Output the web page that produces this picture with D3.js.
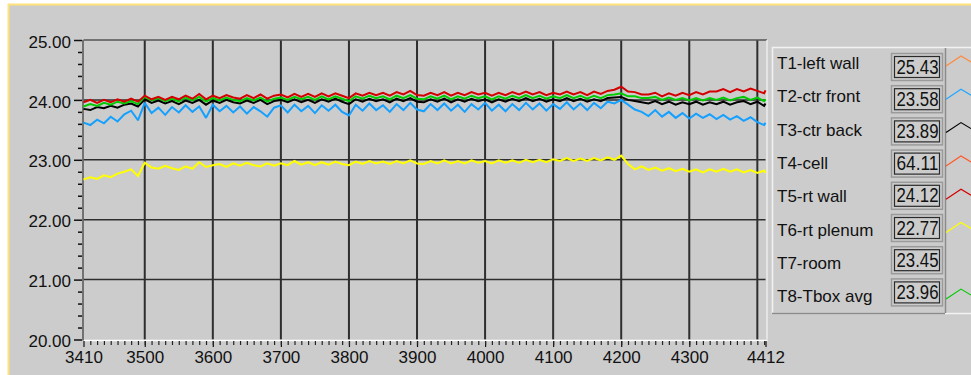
<!DOCTYPE html>
<html>
<head>
<meta charset="utf-8">
<script src="https://cdn.jsdelivr.net/npm/d3@7"></script>
<style>
  html, body { margin: 0; padding: 0; background: #fff; }
  svg { display: block; font-family: "Liberation Sans", Arial, sans-serif; }
</style>
</head>
<body>
<svg id="chart" width="971" height="375"></svg>
<script>
// sample numbers on the x axis (one reading every 10 samples, plus the last one)
var samples = d3.range(3410, 4411, 10).concat([4412]);

var xTickLabels = [3410, 3500, 3600, 3700, 3800, 3900, 4000, 4100, 4200, 4300, 4412];
var xGrid = [3500, 3600, 3700, 3800, 3900, 4000, 4100, 4200, 4300, 4400];
var yTicks = [20, 21, 22, 23, 24, 25];

// T2-ctr front (blue)
var t2Values = [
  23.62, 23.58, 23.67, 23.61, 23.72, 23.64, 23.76, 23.82, 23.66, 23.95,
  23.78, 23.87, 23.75, 23.88, 23.79, 23.91, 23.80, 23.89, 23.70, 23.92,
  23.81, 23.90, 23.79, 23.89, 23.77, 23.88, 23.81, 23.72, 23.87, 23.91,
  23.79, 23.92, 23.81, 23.90, 23.78, 23.91, 23.82, 23.92, 23.80, 23.74,
  23.92, 23.82, 23.94, 23.83, 23.91, 23.80, 23.93, 23.83, 23.95, 23.84,
  23.81, 23.93, 23.83, 23.94, 23.82, 23.92, 23.80, 23.93, 23.84, 23.95,
  23.82, 23.92, 23.81, 23.93, 23.83, 23.95, 23.84, 23.94, 23.82, 23.93,
  23.85, 23.96, 23.84, 23.94, 23.83, 23.95, 23.86, 23.97, 23.94, 24.00,
  23.92, 23.84, 23.80, 23.73, 23.83, 23.72, 23.80, 23.70, 23.78, 23.69,
  23.77, 23.70, 23.76, 23.68, 23.75, 23.67, 23.73, 23.65, 23.71, 23.63,
  23.58, 23.62
];

// T3-ctr back (black)
var t3Values = [
  23.85, 23.83, 23.88, 23.86, 23.90, 23.87, 23.92, 23.94, 23.89, 24.01,
  23.95, 23.99, 23.94, 23.98, 23.93, 23.99, 23.95, 24.00, 23.92, 23.99,
  23.95, 24.00, 23.96, 23.94, 23.99, 23.95, 24.00, 23.93, 23.98, 24.00,
  23.96, 24.01, 23.96, 24.00, 23.95, 24.01, 23.97, 24.02, 23.97, 23.93,
  24.01, 23.97, 24.02, 23.98, 24.01, 23.96, 24.02, 23.98, 24.03, 23.97,
  23.96, 24.01, 23.97, 24.02, 23.96, 24.01, 23.97, 24.02, 23.98, 24.01,
  23.96, 24.01, 23.97, 24.02, 23.98, 24.03, 23.98, 24.02, 23.97, 24.01,
  23.98, 24.03, 23.98, 24.02, 23.97, 24.01, 23.98, 24.03, 24.04, 24.05,
  24.00, 23.98, 23.96, 23.94, 23.98, 23.93, 23.97, 23.92, 23.96, 23.93,
  23.97, 23.92, 23.96, 23.93, 23.97, 23.92, 23.96, 23.98, 23.93, 23.97,
  23.90, 23.94
];

// T5-rt wall (red)
var t5Values = [
  23.96, 24.00, 23.95, 24.00, 23.96, 24.01, 23.97, 24.02, 23.97, 24.07,
  24.01, 24.05, 24.00, 24.05, 24.01, 24.07, 24.02, 24.10, 24.01, 24.07,
  24.03, 24.08, 24.04, 24.02, 24.08, 24.03, 24.09, 24.02, 24.07, 24.09,
  24.04, 24.10, 24.05, 24.10, 24.05, 24.11, 24.06, 24.11, 24.07, 24.03,
  24.11, 24.07, 24.12, 24.08, 24.12, 24.07, 24.13, 24.09, 24.15, 24.08,
  24.07, 24.12, 24.08, 24.13, 24.07, 24.12, 24.08, 24.13, 24.09, 24.12,
  24.07, 24.12, 24.08, 24.13, 24.09, 24.14, 24.09, 24.13, 24.08, 24.12,
  24.09, 24.14, 24.09, 24.13, 24.08, 24.14, 24.10, 24.15, 24.17, 24.22,
  24.14, 24.13, 24.09, 24.09, 24.12, 24.06, 24.11, 24.07, 24.12, 24.08,
  24.13, 24.09, 24.14, 24.14, 24.18, 24.13, 24.18, 24.14, 24.19, 24.15,
  24.11, 24.16
];

// T6-rt plenum (yellow)
var t6Values = [
  22.67, 22.71, 22.68, 22.74, 22.71, 22.77, 22.80, 22.84, 22.73, 22.95,
  22.87, 22.85, 22.90, 22.86, 22.83, 22.89, 22.85, 22.96, 22.88, 22.91,
  22.93, 22.88, 22.94, 22.90, 22.95, 22.91, 22.89, 22.94, 22.90, 22.94,
  22.91, 22.98, 22.92, 22.96, 22.91, 22.96, 22.92, 22.97, 22.93, 22.91,
  22.97, 22.93, 22.98, 22.94, 22.97, 22.93, 22.98, 22.94, 22.99, 22.94,
  22.93, 22.98, 22.94, 22.99, 22.94, 22.98, 22.94, 22.99, 22.95, 22.98,
  22.94, 22.99, 22.95, 22.99, 22.95, 23.00, 22.96, 23.00, 22.96, 23.01,
  22.98, 23.03, 22.98, 23.02, 22.98, 23.03, 22.99, 23.04, 23.00, 23.07,
  22.93, 22.84, 22.89, 22.83, 22.87, 22.82, 22.86, 22.81, 22.85, 22.80,
  22.84, 22.79, 22.84, 22.80, 22.85, 22.80, 22.84, 22.79, 22.83, 22.78,
  22.82, 22.78
];

// T8-Tbox avg (green)
var t8Values = [
  23.89, 23.93, 23.90, 23.95, 23.92, 23.97, 23.94, 23.98, 23.93, 24.05,
  23.99, 24.03, 23.98, 24.02, 23.97, 24.04, 23.99, 24.05, 23.97, 24.03,
  23.99, 24.04, 24.00, 23.98, 24.03, 23.99, 24.04, 23.97, 24.02, 24.04,
  24.00, 24.05, 24.01, 24.05, 24.00, 24.06, 24.01, 24.06, 24.02, 23.98,
  24.06, 24.02, 24.07, 24.03, 24.06, 24.01, 24.07, 24.03, 24.08, 24.02,
  24.01, 24.06, 24.02, 24.07, 24.01, 24.06, 24.02, 24.07, 24.03, 24.06,
  24.01, 24.06, 24.02, 24.07, 24.03, 24.08, 24.03, 24.07, 24.02, 24.06,
  24.03, 24.08, 24.03, 24.07, 24.02, 24.07, 24.03, 24.08, 24.09, 24.11,
  24.06, 24.06, 24.03, 24.03, 24.05, 24.00, 24.04, 24.00, 24.03, 23.99,
  24.03, 23.99, 24.03, 24.00, 24.04, 23.99, 24.03, 24.05, 24.00, 24.04,
  23.98, 24.01
];

var plotSeries = [t6Values, t2Values, t3Values, t8Values, t5Values];
var plotColors = ["#ffff00", "#14a0ff", "#000000", "#00cc00", "#d40000"];

// legend
var legendNames = ["T1-left wall", "T2-ctr front", "T3-ctr back", "T4-cell",
                   "T5-rt wall", "T6-rt plenum", "T7-room", "T8-Tbox avg"];
var legendValues = ["25.43", "23.58", "23.89", "64.11", "24.12", "22.77", "23.45", "23.96"];
var legendColors = ["#ff8a3c", "#1ea8ff", "#000000", "#ff5a28", "#d40000", "#ffff00", null, "#00cc00"];


var svg = d3.select("#chart");
var bg = "#cccccc";
var font = "Liberation Sans, Arial, sans-serif";

// panel background with the yellow frame at top and left
svg.append("rect").attr("x", 8).attr("y", 4).attr("width", 963).attr("height", 371).attr("fill", bg);
svg.append("line").attr("x1", 8.5).attr("y1", 4).attr("x2", 8.5).attr("y2", 375)
  .attr("stroke", "#ffe27a").attr("stroke-width", 2);
svg.append("line").attr("x1", 8).attr("y1", 4.5).attr("x2", 971).attr("y2", 4.5)
  .attr("stroke", "#ffe27a").attr("stroke-width", 2);

var x = d3.scaleLinear().domain([3410, 4412]).range([83.5, 765.5]);
var y = d3.scaleLinear().domain([20, 25]).range([339.5, 40]);

// grid
var grid = svg.append("g");
grid.selectAll("line.v").data(xGrid).enter().append("line")
  .attr("x1", function(d) { return x(d); })
  .attr("x2", function(d) { return x(d); })
  .attr("y1", y(25)).attr("y2", y(20))
  .attr("stroke", "#2e2e2e").attr("stroke-width", 2);
grid.selectAll("line.h").data([21, 22, 23, 24]).enter().append("line")
  .attr("x1", x(3410)).attr("x2", x(4412))
  .attr("y1", function(d) { return y(d); })
  .attr("y2", function(d) { return y(d); })
  .attr("stroke", "#2e2e2e").attr("stroke-width", 1.5);

// frame: dark top/left, light bottom/right
svg.append("line").attr("x1", x(3410)).attr("x2", 767).attr("y1", y(25)).attr("y2", y(25))
  .attr("stroke", "#555").attr("stroke-width", 1.5);
svg.append("line").attr("x1", 767).attr("x2", 767).attr("y1", y(25)).attr("y2", y(20))
  .attr("stroke", "#ececec").attr("stroke-width", 1.5);
svg.append("line").attr("x1", x(3410)).attr("x2", 767.5).attr("y1", 340.5).attr("y2", 340.5)
  .attr("stroke", "#ffffff").attr("stroke-width", 1.5);
svg.append("line").attr("x1", 83).attr("x2", 83).attr("y1", y(25)).attr("y2", 340.5)
  .attr("stroke", "#555").attr("stroke-width", 1.5);

// series
var line = d3.line()
  .x(function(d, i) { return x(samples[i]); })
  .y(function(d) { return y(d); });

svg.append("g").selectAll("path").data(plotSeries).enter().append("path")
  .attr("d", line)
  .attr("fill", "none")
  .attr("stroke", function(d, i) { return plotColors[i]; })
  .attr("stroke-width", 2)
  .attr("stroke-linejoin", "miter")
  .attr("stroke-miterlimit", 2);

// y axis
var yMinor = [];
yTicks.slice(0, -1).forEach(function(t) {
  [0.2, 0.4, 0.6, 0.8].forEach(function(f) { yMinor.push(t + f); });
});

var yAxis = svg.append("g").attr("transform", "translate(82,0)")
  .call(d3.axisLeft(y).tickValues(yTicks).tickFormat(d3.format(".2f")).tickSize(8).tickPadding(3));
svg.append("g").attr("transform", "translate(82,0)")
  .call(d3.axisLeft(y).tickValues(yMinor).tickFormat("").tickSize(4))
  .select(".domain").remove();
yAxis.select(".domain").remove();
yAxis.selectAll("text").attr("font-size", 17).attr("fill", "#111").attr("dy", "0.42em")
  .attr("font-family", font);
svg.selectAll("g.tick line").attr("stroke", "#111").attr("stroke-width", 1.5);

// x axis
var xMinor = d3.range(3420, 4411, 10);
var xAxis = svg.append("g").attr("transform", "translate(0,341)")
  .call(d3.axisBottom(x).tickValues(xTickLabels).tickFormat(d3.format("d")).tickSize(6).tickPadding(4));
var xMin = svg.append("g").attr("transform", "translate(0,341)")
  .call(d3.axisBottom(x).tickValues(xMinor).tickFormat("").tickSize(4));
xAxis.select(".domain").remove();
xMin.select(".domain").remove();
xAxis.selectAll("text").attr("font-size", 17).attr("fill", "#111")
  .attr("font-family", font);
xAxis.selectAll("line").attr("stroke", "#111").attr("stroke-width", 1.2);
xMin.selectAll("line").attr("stroke", "#222").attr("stroke-width", 1.2);

// legend panel
var lg = svg.append("g");
lg.append("rect").attr("x", 772.5).attr("y", 47.5).attr("width", 200).attr("height", 266)
  .attr("fill", bg).attr("stroke", "#f2f2f2").attr("stroke-width", 1.5);
lg.append("line").attr("x1", 772).attr("x2", 945).attr("y1", 313.5).attr("y2", 313.5)
  .attr("stroke", "#8a8a8a").attr("stroke-width", 1.5);
lg.append("line").attr("x1", 945.5).attr("x2", 945.5).attr("y1", 48).attr("y2", 313)
  .attr("stroke", "#8a8a8a").attr("stroke-width", 1.5);

// labels and line samples sit on one pitch, value boxes on a slightly tighter one
var labelBase = function(i) { return 69 + 33.3 * i; };
var boxTop = function(i) { return 53 + 32.2 * i; };

lg.selectAll("text.name").data(legendNames).enter().append("text")
  .attr("class", "name")
  .attr("x", 777).attr("y", function(d, i) { return labelBase(i); })
  .attr("font-size", 17).attr("fill", "#111")
  .text(function(d) { return d; });

var boxes = lg.selectAll("g.box").data(legendValues).enter().append("g")
  .attr("transform", function(d, i) { return "translate(0," + boxTop(i) + ")"; });
boxes.append("rect").attr("x", 891.5).attr("y", 0.5).attr("width", 51).attr("height", 27)
  .attr("fill", bg).attr("stroke", "#9a9a9a").attr("stroke-width", 1.5);
boxes.append("rect").attr("x", 894.5).attr("y", 3.5).attr("width", 45).attr("height", 21)
  .attr("fill", bg).attr("stroke", "#2a2a2a").attr("stroke-width", 1.2);
boxes.append("text")
  .attr("x", 938.5).attr("y", 20.5)
  .attr("text-anchor", "end")
  .attr("font-size", 19.5).attr("fill", "#111")
  .attr("textLength", 42).attr("lengthAdjust", "spacingAndGlyphs")
  .text(function(d) { return d; });

lg.selectAll("polyline").data(legendNames.filter(function(d, i) { return legendColors[i] !== null; }))
  .enter().append("polyline")
  .attr("points", function(d) {
    var b = labelBase(legendNames.indexOf(d));
    return [[946, b - 3], [961, b - 13], [971, b - 7]].join(" ");
  })
  .attr("fill", "none")
  .attr("stroke", function(d) { return legendColors[legendNames.indexOf(d)]; })
  .attr("stroke-width", 1.2);
</script>
</body>
</html>
